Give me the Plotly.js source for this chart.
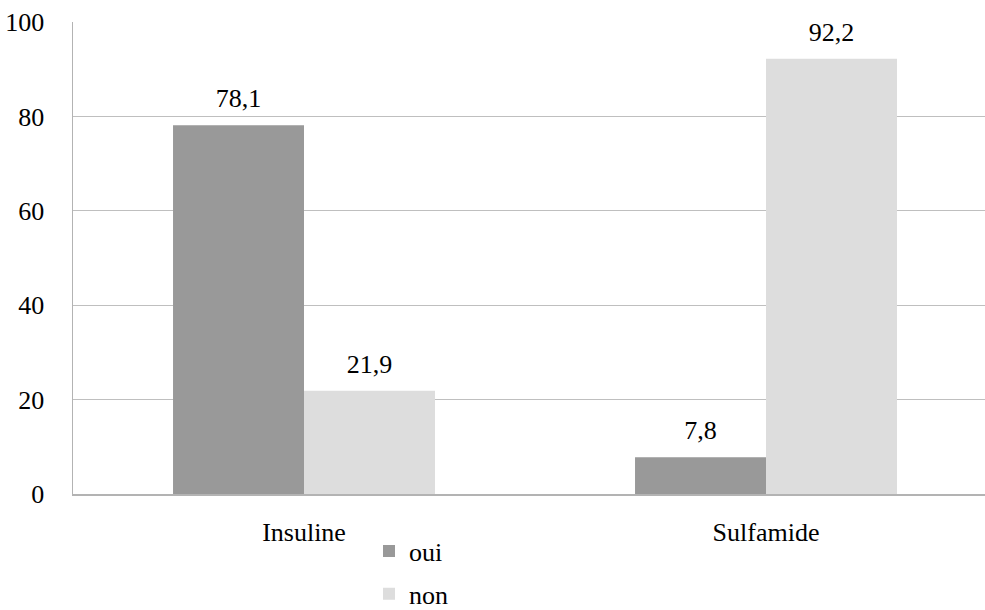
<!DOCTYPE html>
<html>
<head>
<meta charset="utf-8">
<script src="https://cdn.plot.ly/plotly-3.0.1.min.js"></script>
<style>html,body{margin:0;padding:0;background:#fff}#chart{width:985px;height:610px}</style>
</head>
<body>
<div id="chart"></div>
<script>
const categories = ["Insuline", "Sulfamide"];
const seriesNames = ["oui", "non"];
const ouiValues = [78.1, 7.8];
const nonValues = [21.9, 92.2];
const yTickValues = [0, 20, 40, 60, 80, 100];

const font = {family: "Liberation Serif, Times New Roman, serif", size: 26, color: "#000"};

function barTrace(name, values, color, group) {
  return {type: "bar", name: name, x: categories, y: values, legendgroup: group,
    offsetgroup: group, marker: {color: color}, hoverinfo: "skip"};
}
function labelTrace(values, group) {
  return {type: "scatter", mode: "markers+text", x: categories, y: values, offsetgroup: group,
    showlegend: false, marker: {size: 17, opacity: 0}, texttemplate: "%{y:.1f}",
    textposition: "top center", textfont: font, cliponaxis: false, hoverinfo: "skip"};
}

const traces = [
  barTrace(seriesNames[0], ouiValues, "#999999", "a"),
  barTrace(seriesNames[1], nonValues, "#dddddd", "b"),
  labelTrace(ouiValues, "a"),
  labelTrace(nonValues, "b")
];

const layout = {
  width: 985, height: 610,
  margin: {l: 73, r: 0, t: 21.5, b: 116, autoexpand: false},
  paper_bgcolor: "#fff", plot_bgcolor: "#fff",
  separators: ", ",
  font: font,
  barmode: "group", bargap: 0.433, bargroupgap: 0,
  scattermode: "group", scattergap: 0.433,
  showlegend: true,
  legend: {orientation: "v", x: (369 - 73) / 912, xanchor: "left", y: -0.071, yanchor: "top",
    font: font, tracegroupgap: 6, traceorder: "grouped", bgcolor: "rgba(0,0,0,0)"},
  xaxis: {range: [-0.5, 1.474], showgrid: false, showline: true, linecolor: "#b3b3b3", linewidth: 1.5,
    ticks: "", tickfont: font, ticklabelstandoff: 14, zeroline: false, fixedrange: true, automargin: false},
  yaxis: {range: [0, 100], tickvals: yTickValues, showgrid: true, gridcolor: "#bfbfbf", gridwidth: 1,
    showline: true, linecolor: "#b3b3b3", linewidth: 1.5, ticks: "", tickfont: font,
    ticklabelstandoff: 22, zeroline: false, fixedrange: true, automargin: false}
};

Plotly.newPlot("chart", traces, layout, {staticPlot: true, displayModeBar: false});
</script>
</body>
</html>
